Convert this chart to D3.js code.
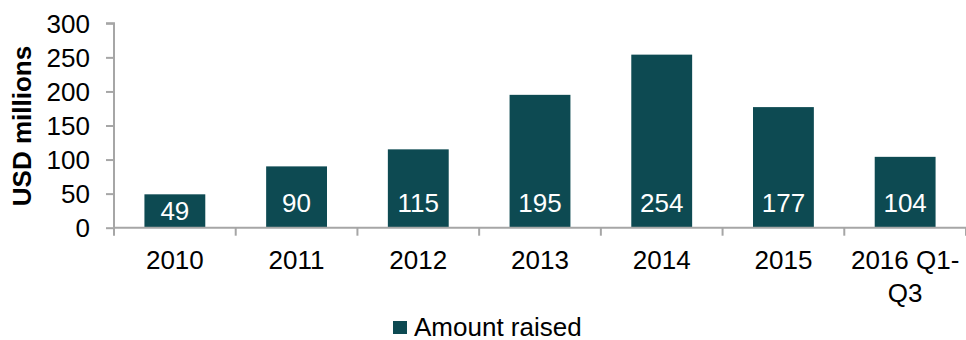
<!DOCTYPE html>
<html>
<head>
<meta charset="utf-8">
<script src="https://cdn.jsdelivr.net/npm/d3@7"></script>
<style>
  body { margin: 0; background: #fff; }
  svg { display: block; font-family: "Liberation Sans", Arial, sans-serif; }
</style>
</head>
<body>
<svg id="chart" width="966" height="340"></svg>
<script>
const categories = ['2010', '2011', '2012', '2013', '2014', '2015', '2016 Q1-|Q3'];
const values = [49, 90, 115, 195, 254, 177, 104];
const yTicks = [0, 50, 100, 150, 200, 250, 300];
const seriesName = 'Amount raised';
const yTitle = 'USD millions';

const barColor = '#0d4a52';
const axisColor = '#a6a6a6';
const fontSize = 26;

const svg = d3.select('#chart');
const plotLeft = 114, plotRight = 966, plotTop = 23.3, plotBottom = 227.7;

const x = d3.scaleBand().domain(categories).range([plotLeft, plotRight]).paddingInner(0.5).paddingOuter(0.25);
const step = x.step();
const y = d3.scaleLinear().domain([0, 300]).range([plotBottom, plotTop]);

// bars
svg.append('g')
  .selectAll('rect')
  .data(values)
  .enter()
  .append('rect')
  .attr('x', (d, i) => x(categories[i]))
  .attr('y', d => y(d))
  .attr('width', x.bandwidth())
  .attr('height', d => y(0) - y(d))
  .attr('fill', barColor);

// value labels, inside base
svg.append('g')
  .selectAll('text')
  .data(values)
  .enter()
  .append('text')
  .attr('x', (d, i) => x(categories[i]) + x.bandwidth() / 2)
  .attr('y', d => Math.max(y(0) - 24.5, (y(d) + y(0)) / 2) + 9)
  .attr('text-anchor', 'middle')
  .attr('font-size', fontSize)
  .attr('fill', '#fff')
  .text(d => d);

// y axis
const yAxis = d3.axisLeft(y).tickValues(yTicks).tickSize(8).tickPadding(16);
const yg = svg.append('g').attr('transform', `translate(${plotLeft},0)`).call(yAxis);
yg.select('.domain').attr('stroke', axisColor).attr('stroke-width', 2)
  .attr('d', `M-8,${plotTop}H0V${plotBottom}`);
yg.selectAll('.tick line').attr('stroke', axisColor).attr('stroke-width', 2);
yg.selectAll('.tick text').attr('font-size', fontSize).attr('fill', '#000').attr('dy', '0.35em');

// x axis: ticks at band edges
const xg = svg.append('g');
xg.append('line')
  .attr('x1', plotLeft).attr('x2', plotRight)
  .attr('y1', plotBottom).attr('y2', plotBottom)
  .attr('stroke', axisColor).attr('stroke-width', 2);
const edges = categories.map(c => x(c) - (step - x.bandwidth()) / 2).concat([plotRight]);
xg.selectAll('line.tk')
  .data(edges)
  .enter()
  .append('line')
  .attr('class', 'tk')
  .attr('x1', d => d).attr('x2', d => d)
  .attr('y1', plotBottom).attr('y2', plotBottom + 8)
  .attr('stroke', axisColor).attr('stroke-width', 2);
xg.selectAll('text')
  .data(categories)
  .enter()
  .append('text')
  .attr('x', d => x(d) + x.bandwidth() / 2)
  .attr('y', 269)
  .attr('text-anchor', 'middle')
  .attr('font-size', fontSize)
  .attr('fill', '#000')
  .each(function(d) {
    const parts = d.split('|');
    const t = d3.select(this);
    parts.forEach((p, i) => {
      t.append('tspan')
        .attr('x', x(d) + x.bandwidth() / 2)
        .attr('dy', i === 0 ? 0 : 33)
        .text(p);
    });
  });

// y title
svg.append('text')
  .attr('transform', `translate(31,126) rotate(-90)`)
  .attr('text-anchor', 'middle')
  .attr('font-size', fontSize)
  .attr('font-weight', 'bold')
  .attr('fill', '#000')
  .text(yTitle);

// legend
const lg = svg.append('g');
lg.append('rect')
  .attr('x', 393).attr('y', 321)
  .attr('width', 14).attr('height', 13)
  .attr('fill', barColor);
lg.append('text')
  .attr('x', 414).attr('y', 336)
  .attr('font-size', fontSize)
  .attr('fill', '#000')
  .text(seriesName);
</script>
</body>
</html>
